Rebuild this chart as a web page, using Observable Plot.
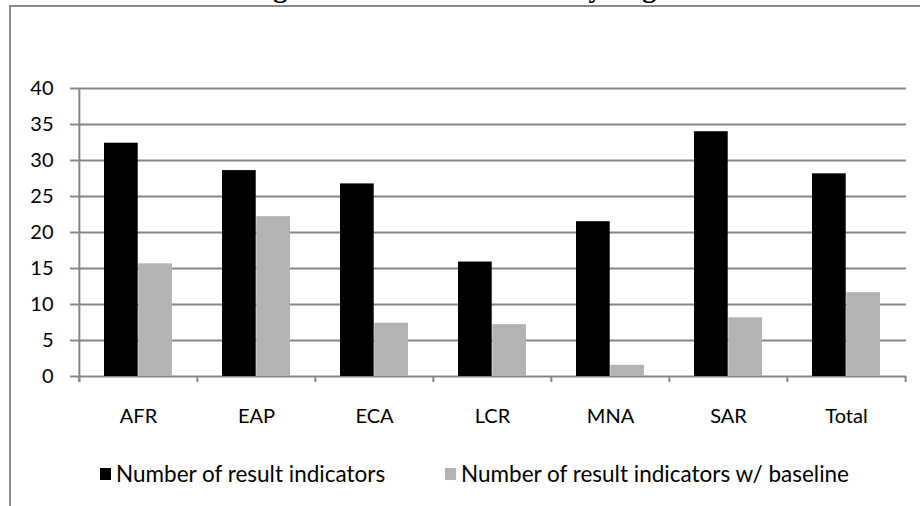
<!DOCTYPE html>
<html>
<head>
<meta charset="utf-8">
<script src="https://cdn.jsdelivr.net/npm/d3@7"></script>
<script src="https://cdn.jsdelivr.net/npm/@observablehq/plot@0.6"></script>
<style>
  body { margin: 0; background: #fff; }
  #chart { position: relative; width: 920px; height: 506px; overflow: hidden; font-family: Lato, "Open Sans", sans-serif; }
  #title { position: absolute; left: 0; top: -26px; width: 896px; text-align: center;
           font: bold 28px/28px "Liberation Serif", serif; color: #000; white-space: nowrap; }
  #frame { position: absolute; left: 9px; top: 5px; width: 930px; height: 520px;
           border-left: 2px solid #8a8a8a; border-top: 2px solid #8a8a8a; }
  #plot { position: absolute; left: 0; top: 0; }
  .item { position: absolute; top: 460px; display: flex; align-items: center; font-size: 22.5px; color: #000; white-space: nowrap; }
  .swatch { width: 11px; height: 12px; margin-right: 5px; }
</style>
</head>
<body>
<div id="chart">
  <div id="frame"></div>
  <div id="title"></div>
  <div id="plot"></div>
</div>
<script>
// Average number of result indicators per project, by region
const title = "Average Number of Indicators by Region";
const regions = ["AFR", "EAP", "ECA", "LCR", "MNA", "SAR", "Total"];
const indicators = [32.4, 28.6, 26.75, 15.9, 21.5, 34.0, 28.15];
const withBaseline = [15.65, 22.2, 7.4, 7.2, 1.55, 8.15, 11.65];
const seriesNames = ["Number of result indicators", "Number of result indicators w/ baseline"];
const seriesColors = ["#000000", "#b3b3b3"];
const yTicks = [0, 5, 10, 15, 20, 25, 30, 35, 40];

const width = 920, height = 440;
const marginLeft = 78, marginRight = 14, marginTop = 88, marginBottom = 64;
const step = (width - marginLeft - marginRight) / regions.length;
const gridColor = "#868686";

const rows = regions.flatMap((r, i) => [
  {region: r, series: seriesNames[0], value: indicators[i]},
  {region: r, series: seriesNames[1], value: withBaseline[i]}
]);

document.getElementById("title").textContent = title;

const plot = Plot.plot({
  width, height, marginLeft, marginRight, marginTop, marginBottom,
  style: {fontFamily: "Lato, 'Open Sans', sans-serif", fontSize: "20px", color: "#000", background: "transparent"},
  x: {domain: regions, padding: 0, label: null},
  y: {domain: [0, 40], label: null},
  color: {domain: seriesNames, range: seriesColors},
  marks: [
    Plot.ruleY(yTicks, {stroke: gridColor, strokeWidth: 2}),
    // first series sits left of the band centre, second series right of it
    Plot.barY(rows.filter(d => d.series === seriesNames[0]),
      {x: "region", y: "value", fill: "series", insetLeft: 25, insetRight: step - 59}),
    Plot.barY(rows.filter(d => d.series === seriesNames[1]),
      {x: "region", y: "value", fill: "series", insetLeft: step - 59, insetRight: 25}),
    Plot.axisY(yTicks, {tickSize: 8, tickPadding: 17, stroke: gridColor, strokeWidth: 2, fill: "#000", fontSize: 20}),
    Plot.axisX({tickSize: 0, tickPadding: 32, fill: "#000", fontSize: 20}),
    // vertical axis line
    Plot.ruleX([regions[0]], {dx: -step / 2, y1: 40, y2: 0, insetBottom: -6, stroke: gridColor, strokeWidth: 2}),
    // category boundary ticks
    Plot.ruleX(regions, {dx: -step / 2, y1: 0, y2: 0, insetBottom: -6, stroke: gridColor, strokeWidth: 2}),
    Plot.ruleX([regions[regions.length - 1]], {dx: step / 2, y1: 0, y2: 0, insetBottom: -6, stroke: gridColor, strokeWidth: 2})
  ]
});
document.getElementById("plot").append(plot);

// legend below the plot
const legendLeft = [100, 445];
seriesNames.forEach((name, i) => {
  const item = document.createElement("div");
  item.className = "item";
  item.style.left = legendLeft[i] + "px";
  const sw = document.createElement("span");
  sw.className = "swatch";
  sw.style.background = seriesColors[i];
  const label = document.createElement("span");
  label.textContent = name;
  item.append(sw, label);
  document.getElementById("chart").append(item);
});
</script>
</body>
</html>
